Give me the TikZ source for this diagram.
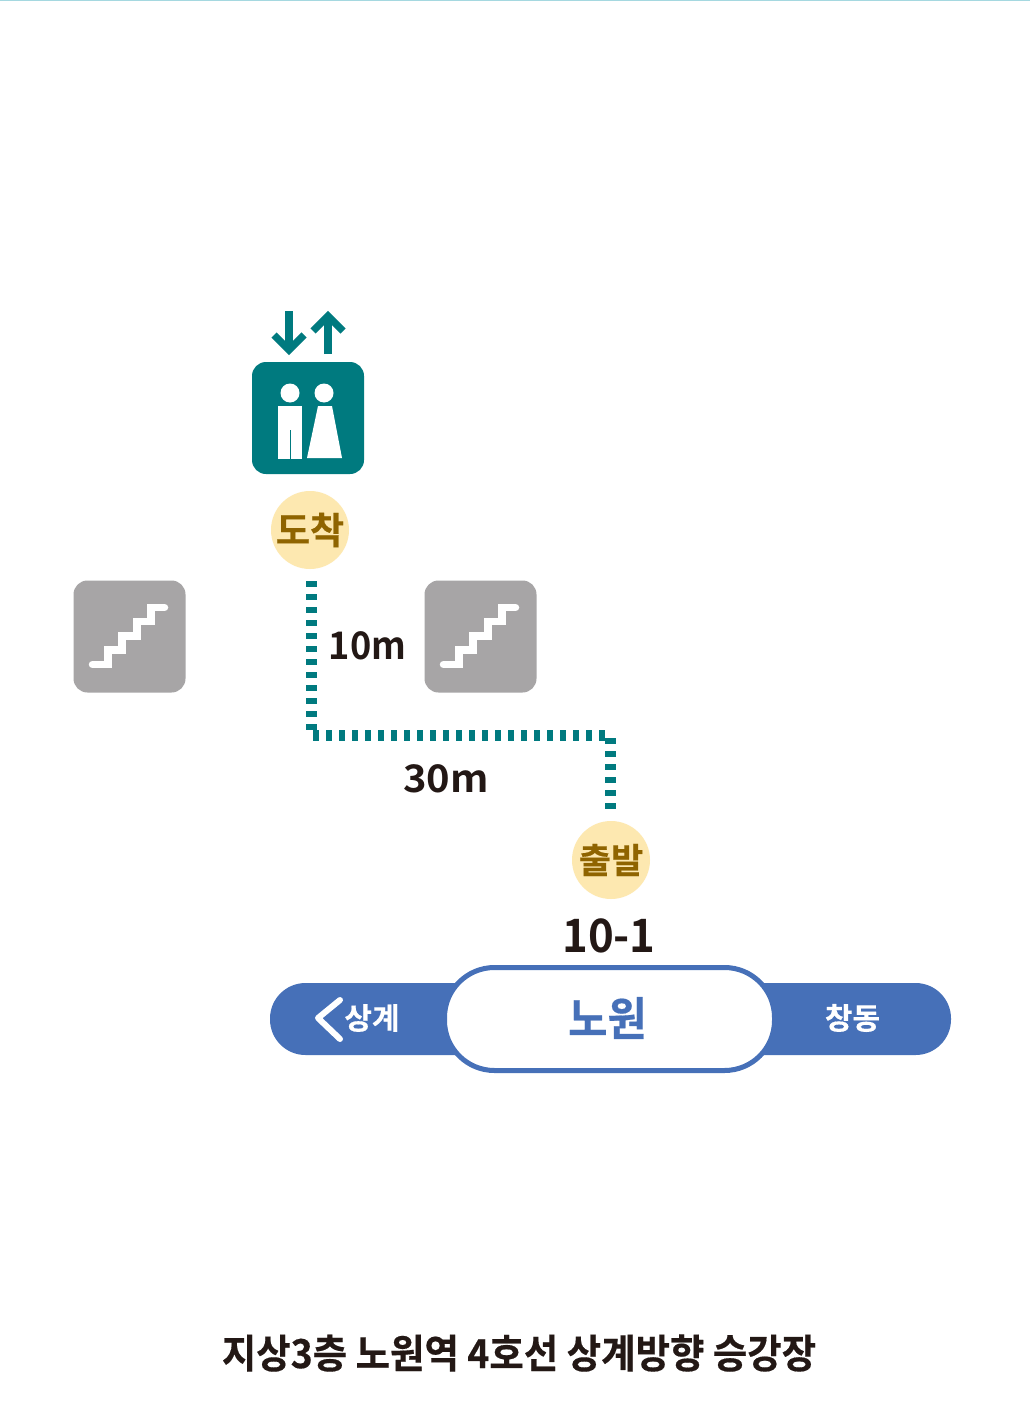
\documentclass[tikz,border=0pt]{standalone}
\usepackage{fontspec}
\setmainfont{Noto Sans CJK KR Bold}
\newfontfamily\heavyfont[FakeBold=0.4]{Noto Sans CJK KR Bold}
\definecolor{teal1}{HTML}{007A7F}
\definecolor{gray1}{HTML}{A7A5A6}
\definecolor{blue1}{HTML}{4670B8}
\definecolor{cream}{HTML}{FDE8B0}
\definecolor{brown1}{HTML}{8F6400}
\definecolor{ink}{HTML}{231815}
\definecolor{topline}{HTML}{A5D8E0}
\newcommand{\fs}[1]{\fontsize{#1}{#1}\selectfont}
\tikzset{
  iconbox/.style={rounded corners=14pt,minimum width=112pt,minimum height=112pt,inner sep=0pt},
  badge/.style={circle,fill=cream,text=brown1,minimum size=78pt,inner sep=0pt,font=\heavyfont\fs{37}},
  dist/.style={text=ink,inner sep=0pt,font=\fs{38}},
  walk/.style={teal1,line width=11pt,dash pattern=on 6pt off 7pt},
  stairline/.style={white,line width=7.5pt,line cap=round,miter limit=10},
  arrowline/.style={teal1,line width=7.2pt,miter limit=10},
  stn/.style={white,inner sep=0pt,font=\heavyfont\fs{30}},
}
\begin{document}
\begin{tikzpicture}[x=1pt,y=-1pt]
\useasboundingbox (0,0) rectangle (1030,1420);
\fill[white] (0,0) rectangle (1030,1420);
\fill[topline] (0,0) rectangle (1030,1.5);
% arrows
\draw[arrowline] (289,311) -- (289,350);
\draw[arrowline] (274,335) -- (289,350) -- (304,335);
\draw[arrowline] (328,354) -- (328,316);
\draw[arrowline] (313,331) -- (328,316) -- (343,331);
% elevator
\node[iconbox,fill=teal1] (lift) at (308,418) {};
\fill[white] (290,393) circle (9.5);
\fill[white] (324,393) circle (9.5);
\fill[white] (278,406) rectangle (302,459);
\draw[teal1,line width=1pt] (290,430) -- (290,459);
\fill[white] (318,406) -- (332,406) -- (342,458) -- (307,458) -- cycle;
% badges
\node[badge] (arrive) at (310,530) {도착};
\node[badge,font=\heavyfont\fs{35}] (depart) at (611,860) {출발};
% stair boxes
\node[iconbox,fill=gray1] (stairA) at (129.5,636.5) {};
\node[iconbox,fill=gray1] (stairB) at (480.5,636.5) {};
\foreach \n in {stairA,stairB}{
  \draw[stairline,shift={(\n.center)}] (-37,28) -- (-21.5,28) -- (-21.5,13.5) -- (-7.5,13.5) -- (-7.5,-0.5) -- (7.5,-0.5) -- (7.5,-15) -- (21.5,-15) -- (21.5,-29) -- (35,-29);
}
% walking route
\coordinate (c1) at (311.5,581);
\coordinate (c2) at (311.5,731);
\coordinate (c3) at (313,735.5);
\coordinate (c4) at (606,735.5);
\coordinate (c5) at (610,738);
\coordinate (c6) at (610,810);
\draw[walk] (c1) -- (c2);
\draw[walk] (c3) -- (c4);
\draw[walk] (c5) -- (c6);
\node[dist,xscale=0.95] (d10) at (367.5,646) {10m};
\node[dist,xscale=1.05] (d30) at (446,779) {30m};
\node[text=ink,inner sep=0pt,font=\fs{46},xscale=0.95] (code) at (609,936) {10-1};
% line bar
\fill[blue1,rounded corners=35.5pt] (270,983) rectangle (951,1055);
\node[draw=blue1,line width=5pt,fill=white,rounded corners=50pt,minimum width=330pt,minimum height=103pt,inner sep=0pt] (here) at (609.5,1019) {};
\node[text=blue1,inner sep=0pt,font=\heavyfont\fs{46},xscale=0.93] (herename) at (607.5,1018) {노원};
\draw[white,line width=6pt,line cap=round,line join=round] (340,1000) -- (318,1018) -- (340,1039);
\node[stn] (prev) at (372,1018) {상계};
\node[stn] (next) at (852.5,1018) {창동};
\node[text=ink,inner sep=0pt,font=\heavyfont\fs{40},xscale=0.935] (title) at (519,1353) {지상3층 노원역 4호선 상계방향 승강장};
\end{tikzpicture}
\end{document}
